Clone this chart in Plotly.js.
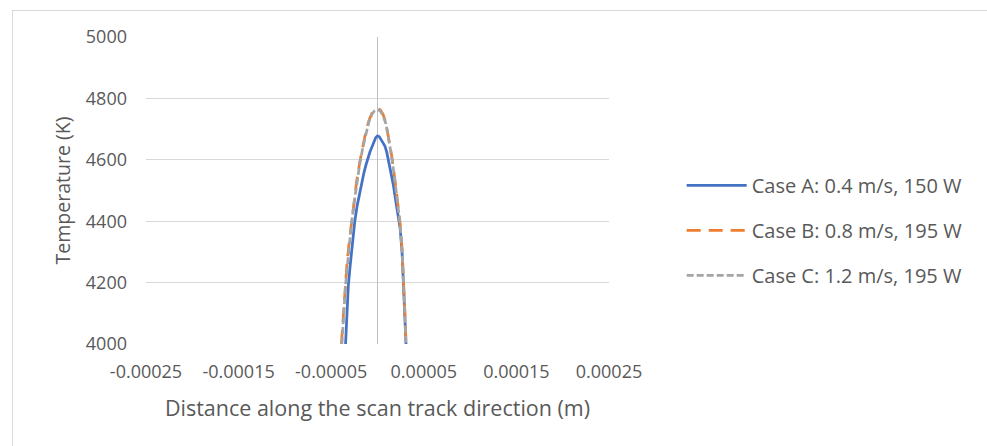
<!DOCTYPE html>
<html>
<head>
<meta charset="utf-8">
<script src="https://cdn.plot.ly/plotly-3.0.1.min.js"></script>
<style>
  html, body { margin: 0; padding: 0; background: #ffffff; overflow: hidden; }
  #frame { position: absolute; left: 12px; top: 10px; width: 990px; height: 450px; border: 1.5px solid #d9d9d9; }
  #chart { position: absolute; left: 0; top: 0; width: 987px; height: 446px; }
</style>
</head>
<body>
<div id="frame"></div>
<div id="chart"></div>
<script>
// Distance along the scan track (m) and temperature (K)
const caseA_x = [-3.45e-5, -3.3e-5, -3.15e-5, -2.95e-5, -2.8e-5, -2.6e-5, -2.45e-5, -2.2e-5, -1.95e-5, -1.7e-5, -1.45e-5, -1.2e-5, -1.0e-5, -8e-6, -6e-6, -4e-6, -2e-6, 0, 2e-6, 4e-6, 6e-6, 8e-6, 1.0e-5, 1.2e-5, 1.45e-5, 1.7e-5, 1.95e-5, 2.2e-5, 2.45e-5, 2.65e-5, 2.8e-5, 2.95e-5, 3.08e-5];
const caseA_T = [4000, 4090, 4190, 4255, 4300, 4360, 4400, 4450, 4490, 4525, 4560, 4588, 4612, 4627, 4642, 4660, 4672, 4678, 4675, 4665, 4655, 4645, 4625, 4595, 4560, 4520, 4470, 4420, 4375, 4300, 4200, 4100, 4000];

const caseB_x = [-3.9e-5, -3.7e-5, -3.5e-5, -3.3e-5, -3.1e-5, -2.8e-5, -2.5e-5, -2.25e-5, -1.9e-5, -1.55e-5, -1.2e-5, -9e-6, -6e-6, -3e-6, 0, 3e-6, 6e-6, 9e-6, 1.2e-5, 1.55e-5, 1.9e-5, 2.2e-5, 2.45e-5, 2.65e-5, 2.8e-5, 2.95e-5, 3.08e-5];
const caseB_T = [4000, 4100, 4195, 4260, 4320, 4400, 4470, 4530, 4595, 4650, 4700, 4730, 4752, 4763, 4767, 4763, 4748, 4722, 4670, 4610, 4530, 4460, 4390, 4310, 4220, 4110, 4000];

const caseC_x = [-3.85e-5, -3.65e-5, -3.45e-5, -3.25e-5, -3.05e-5, -2.8e-5, -2.5e-5, -2.25e-5, -1.9e-5, -1.55e-5, -1.2e-5, -9e-6, -6e-6, -3e-6, 0, 3e-6, 6e-6, 9e-6, 1.2e-5, 1.55e-5, 1.9e-5, 2.2e-5, 2.45e-5, 2.65e-5, 2.8e-5, 2.95e-5, 3.06e-5];
const caseC_T = [4000, 4100, 4190, 4255, 4320, 4395, 4465, 4525, 4590, 4645, 4695, 4727, 4749, 4760, 4763, 4759, 4744, 4718, 4668, 4606, 4528, 4455, 4388, 4305, 4215, 4105, 4000];

const seriesNames = ["Case A: 0.4 m/s, 150 W", "Case B: 0.8 m/s, 195 W", "Case C: 1.2 m/s, 195 W"];
const xTickVals = [-0.00025, -0.00015, -0.00005, 0.00005, 0.00015, 0.00025];
const xTickText = ["-0.00025", "-0.00015", "-0.00005", "0.00005", "0.00015", "0.00025"];
const yTickVals = [4000, 4200, 4400, 4600, 4800, 5000];

const FONT = "Open Sans, Noto Sans, sans-serif";
const TXT = "#595959";

const traces = [
  { x: caseA_x, y: caseA_T, name: seriesNames[0], mode: "lines", legendgroup: "a",
    line: { color: "#4472C4", width: 2.75 } },
  { x: caseB_x, y: caseB_T, name: seriesNames[1], mode: "lines", legendgroup: "b",
    line: { color: "#ED7D31", width: 2.75, dash: "14px,8px" } },
  { x: caseC_x, y: caseC_T, name: seriesNames[2], mode: "lines", legendgroup: "c",
    line: { color: "#A5A5A5", width: 2.75, dash: "7px,3px" } }
];

const layout = {
  width: 987, height: 446,
  paper_bgcolor: "rgba(0,0,0,0)",
  plot_bgcolor: "rgba(0,0,0,0)",
  margin: { l: 146, r: 378, t: 37, b: 102, pad: 0 },
  font: { family: FONT, color: TXT, size: 18 },
  showlegend: true,
  legend: {
    x: 1.157, xanchor: "left", y: 0.37, yanchor: "middle",
    font: { family: FONT, size: 20, color: TXT },
    tracegroupgap: 16, itemwidth: 60, bgcolor: "rgba(0,0,0,0)"
  },
  xaxis: {
    range: [-0.00025, 0.00025],
    tickvals: xTickVals, ticktext: xTickText,
    showgrid: false,
    zeroline: true, zerolinecolor: "#bfbfbf", zerolinewidth: 1.75,
    showline: false, ticks: "",
    ticklabelstandoff: 15,
    automargin: true,
    tickfont: { family: FONT, size: 18, color: TXT },
    title: { text: "Distance along the scan track direction (m)", font: { family: FONT, size: 21.5, color: TXT }, standoff: 18 }
  },
  yaxis: {
    range: [4000, 5000],
    tickvals: yTickVals,
    showgrid: true, gridcolor: "#d9d9d9", gridwidth: 1,
    zeroline: false, showline: false, ticks: "",
    ticklabelstandoff: 18,
    automargin: true,
    tickfont: { family: FONT, size: 18, color: TXT },
    title: { text: "Temperature (K)", font: { family: FONT, size: 19.5, color: TXT }, standoff: 10 }
  }
};

Plotly.newPlot("chart", traces, layout, { displayModeBar: false, staticPlot: true });
</script>
</body>
</html>
